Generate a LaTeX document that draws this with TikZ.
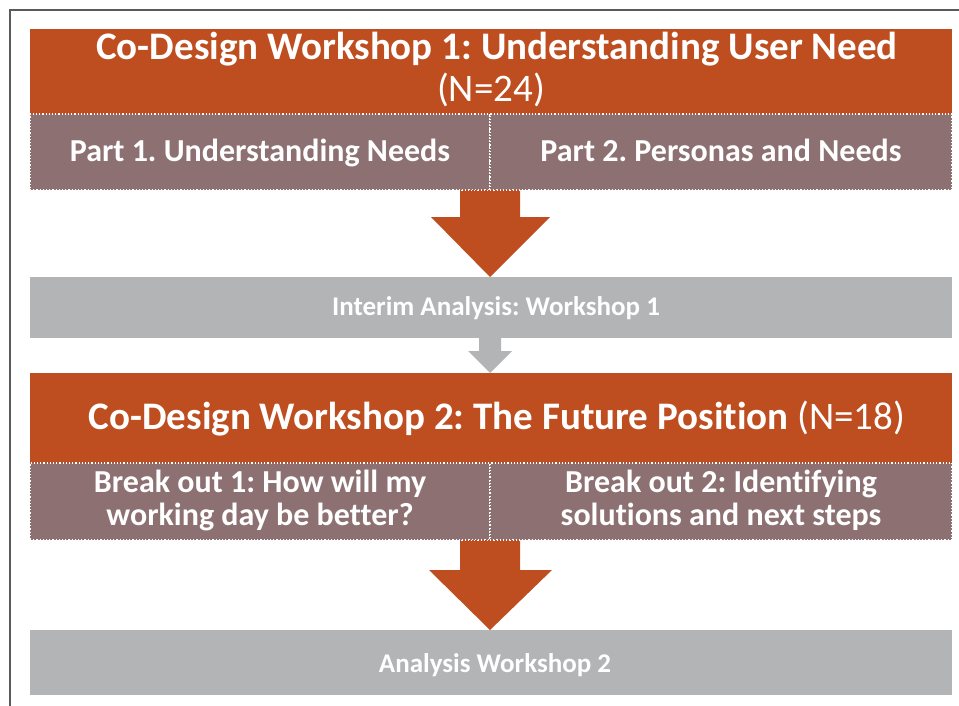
\documentclass[tikz,border=0pt]{standalone}
\usepackage{fontspec}
\setmainfont{Carlito}[Ligatures=NoCommon]
\frenchspacing
\usetikzlibrary{calc}
\definecolor{rust}{HTML}{BE4E1F}
\definecolor{mauve}{HTML}{8D7172}
\definecolor{pale}{HTML}{B3B4B5}
\definecolor{framegray}{HTML}{5A5A5A}
\begin{document}
\begin{tikzpicture}[x=1pt,y=-1pt,
  box/.style={rectangle, inner sep=0pt},
  rustbox/.style={box, fill=rust},
  partbox/.style={box, fill=mauve, draw=white, dotted, line width=1.2pt},
  palebox/.style={box, fill=pale},
  lbl/.style={anchor=base, text=white, inner sep=0pt},
  titlefont/.style={lbl, font=\fontsize{39}{42}\selectfont},
  partfont/.style={lbl, font=\fontsize{32}{34}\selectfont\bfseries},
  notefont/.style={lbl, font=\fontsize{27}{30}\selectfont\bfseries}]
\useasboundingbox (0,0) rectangle (959,706);
% outer frame
\draw[framegray, line width=1.5pt] (10,720) -- (10,10) -- (975,10);

% boxes
\node[rustbox, minimum width=922pt, minimum height=85pt] (w1) at (491,71.5) {};
\node[partbox, minimum width=460pt, minimum height=76pt] (p1) at (260,152) {};
\node[partbox, minimum width=462pt, minimum height=76pt] (p2) at (721,152) {};
\node[palebox, minimum width=922pt, minimum height=61pt] (ia) at (491,307.5) {};
\node[rustbox, minimum width=922pt, minimum height=90pt] (w2) at (491,418) {};
\node[partbox, minimum width=460pt, minimum height=77pt] (b1) at (260,501.5) {};
\node[partbox, minimum width=462pt, minimum height=77pt] (b2) at (721,501.5) {};
\node[palebox, minimum width=922pt, minimum height=65pt] (aw) at (491,662.5) {};

% block arrows between stages
\fill[rust] (460,190) -- (520,190) -- (520,217) -- (550,217) -- (490,277)
  -- (431,217) -- (460,217) -- cycle;
\fill[pale] (479,338) -- (501,338) -- (501,351) -- (512,351) -- (490,373)
  -- (468,351) -- (479,351) -- cycle;
\fill[rust] (460,540) -- (520,540) -- (520,570) -- (552,570) -- (490,630)
  -- (429,570) -- (460,570) -- cycle;
% redraw the dotted borders over the arrow roots
\draw[white, dotted, line width=1.2pt] (p1.south west) -- (p2.south east);
\draw[white, dotted, line width=1.2pt] (b1.south west) -- (b2.south east);

% texts (placed on their baselines)
\node[titlefont] (w1a) at (497,60) {\textbf{Co-Design Workshop 1: Understanding User Need}};
\node[titlefont] (w1b) at (491,102) {(N=24)};
\node[partfont] (p1t) at (260,162) {Part 1. Understanding Needs};
\node[partfont] (p2t) at (721,162) {Part 2. Personas and Needs};
\node[notefont] (iat) at (496,315) {Interim Analysis: Workshop 1};
\node[titlefont] (w2t) at (497,429) {\textbf{Co-Design Workshop 2: The Future Position} (N=18)};
\node[partfont] (b1a) at (260,492) {Break out 1: How will my};
\node[partfont] (b1b) at (260,525) {working day be better?};
\node[partfont] (b2a) at (721,492) {Break out 2: Identifying};
\node[partfont] (b2b) at (721,525) {solutions and next steps};
\node[notefont] (awt) at (495,672) {Analysis Workshop 2};
\end{tikzpicture}
\end{document}
